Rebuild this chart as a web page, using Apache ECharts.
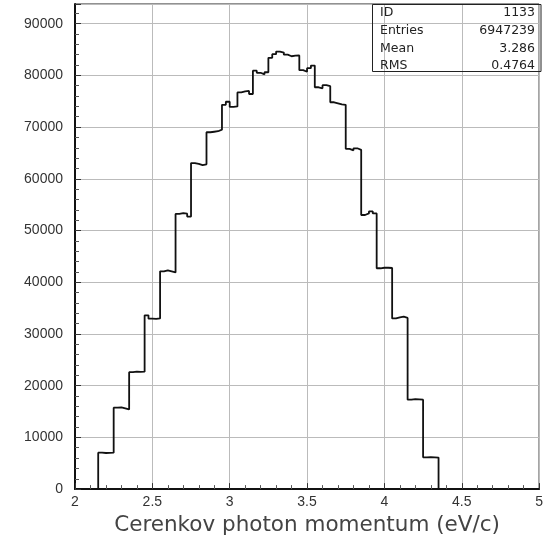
<!DOCTYPE html>
<html>
<head>
<meta charset="utf-8">
<script src="https://cdn.jsdelivr.net/npm/echarts@6/dist/echarts.min.js"></script>
<style>html,body{margin:0;padding:0;background:#fff}#c{width:546px;height:541px}</style>
</head>
<body>
<div id="c"></div>
<script>
// Histogram definition
const lowEdge = 2.15;
const binWidth = 0.025;
const counts = [
  7050, 6980, 7000, 7050,
  15750, 15800, 15600, 15400,
  22600, 22700, 22650, 22700,
  33600, 32950, 32900, 33000,
  42100, 42300, 42100, 41900,
  53200, 53350, 53250, 52700,
  63050, 62900, 62650, 62800,
  69000, 69100, 69200, 69500,
  74300, 74900, 73900, 74000,
  76700, 76900, 77000, 76400,
  80900, 80500, 80200, 80600,
  83400, 84100, 84600, 84400,
  84000, 83700, 83800, 83850,
  81000, 80700, 81400, 81900,
  77700, 77500, 78100, 77900,
  74800, 74600, 74400, 74300,
  65800, 65500, 65900, 65600,
  53000, 53300, 53700, 53300,
  42700, 42800, 42800, 42750,
  33000, 33200, 33350, 33100,
  17300, 17400, 17350, 17300,
  6150, 6200, 6150, 6100
];
const xTickLabels = ['2', '2.5', '3', '3.5', '4', '4.5', '5'];
const yTickLabels = ['0','10000','20000','30000','40000','50000','60000','70000','80000','90000'];
const statNames = ['ID', 'Entries', 'Mean', 'RMS'];
const statValues = ['1133', '6947239', '3.286', '0.4764'];
const xTitle = 'Cerenkov photon momentum (eV/c)';

// Build step data: left edge of each bin + closing point
const stepData = [[lowEdge, 0]];
counts.forEach((c, i) => stepData.push([+(lowEdge + i * binWidth).toFixed(4), c]));
stepData.push([+(lowEdge + counts.length * binWidth).toFixed(4), 0]);

const chart = echarts.init(document.getElementById('c'), null, {renderer: 'canvas'});
const gridL = 75, gridR = 5, gridT = 4, gridB = 48;
const textCol = '#333';
const statGraphics = [];
const boxLeft = 372, boxTop = 4, boxBottom = 71;
statGraphics.push({
  type: 'rect', shape: {x: boxLeft + 0.5, y: boxTop + 0.5, width: 546 - gridR - boxLeft - 0.5, height: boxBottom - boxTop},
  style: {fill: 'transparent', stroke: '#222', lineWidth: 1}, z: 10
});
statNames.forEach((n, i) => {
  const cy = 13 + i * 17.7;
  statGraphics.push({type: 'text', x: 380, y: cy, style: {text: n, fill: '#222', font: '12.5px "DejaVu Sans"', textAlign: 'left', textVerticalAlign: 'middle'}, z: 11});
  statGraphics.push({type: 'text', x: 535, y: cy, style: {text: statValues[i], fill: '#222', font: '12.5px "DejaVu Sans"', textAlign: 'right', textVerticalAlign: 'middle'}, z: 11});
});

chart.setOption({
  animation: false,
  backgroundColor: '#fff',
  grid: {left: gridL, right: gridR, top: gridT, bottom: gridB, show: true, borderColor: '#222', borderWidth: 1, containLabel: false},
  xAxis: {
    type: 'value', min: 2, max: 5, interval: 0.5,
    name: xTitle, nameLocation: 'middle', nameGap: 20,
    nameTextStyle: {fontFamily: 'DejaVu Sans', fontSize: 21.5, color: '#444'},
    axisLine: {show: true, onZero: false, lineStyle: {color: '#111', width: 2}},
    axisTick: {show: true, inside: true, length: 6, lineStyle: {color: '#333'}},
    minorTick: {show: true, splitNumber: 5, length: 4, lineStyle: {color: '#555'}},
    axisLabel: {fontFamily: 'Liberation Sans', fontSize: 14, color: textCol, margin: 6,
      formatter: v => { const s = String(+v.toFixed(2)); return xTickLabels.indexOf(s) >= 0 ? s : ''; }},
    splitLine: {show: true, lineStyle: {color: '#bbb', width: 1}}
  },
  yAxis: {
    type: 'value', min: 0, max: 93800, interval: 10000,
    axisLine: {show: true, onZero: false, lineStyle: {color: '#111', width: 2}},
    axisTick: {show: true, inside: true, length: 6, lineStyle: {color: '#333'}},
    minorTick: {show: true, splitNumber: 5, length: 4, lineStyle: {color: '#555'}},
    axisLabel: {fontFamily: 'Liberation Sans', fontSize: 14, color: textCol, margin: 12,
      formatter: v => { const s = String(Math.round(v)); return (v % 10000 === 0 && yTickLabels.indexOf(s) >= 0) ? s : ''; }},
    splitLine: {show: true, lineStyle: {color: '#bbb', width: 1}}
  },
  series: [{
    type: 'line', step: 'end', data: stepData, showSymbol: false, symbol: 'none',
    lineStyle: {color: '#111', width: 1.8}, z: 5
  }],
  graphic: statGraphics
});
</script>
</body>
</html>
